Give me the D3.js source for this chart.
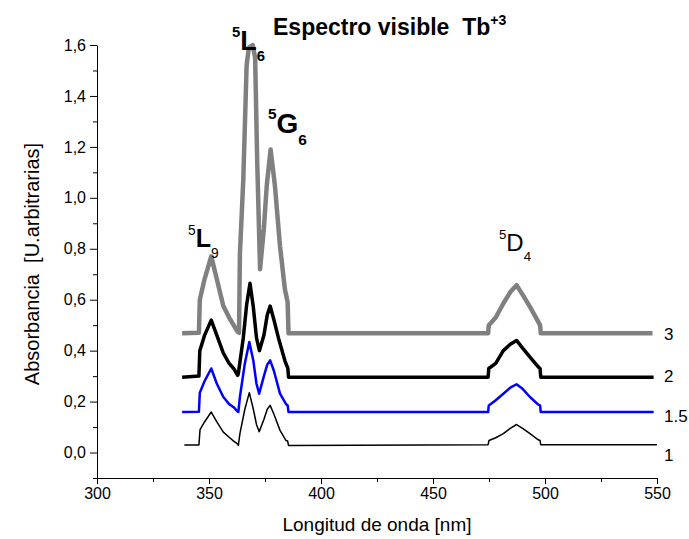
<!DOCTYPE html>
<html lang="es">
<head>
    <meta charset="UTF-8">
    <title>Espectro visible Tb+3</title>
    <script src="https://d3js.org/d3.v7.min.js"></script>
    <style>
        body { margin: 0; background: #fff; }
        svg { font-family: "Liberation Sans", Arial, sans-serif; }
        .axis path, .axis line { stroke: #000; stroke-width: 1px; }
        .axis text { font-size: 16px; fill: #000; }
        .spec { fill: none; stroke-linejoin: round; }
    </style>
</head>
<body>
<div id="chart"></div>
<script>
    // espectros (nm, absorbancia)
    const wl3 = [338, 345.5, 345.9, 348, 351, 353.5, 356.4, 359, 361, 362.8, 363.4, 363.8, 365.3, 366.8, 367.8, 369.5, 370.6, 371.5, 372.8, 374.5, 375.8, 377.5, 379.4, 381.7, 383.9, 385.1, 385.5, 474.6, 474.9, 478, 481.4, 484.5, 487.3, 490, 493.3, 497, 497.8, 498.1, 548];
    const abs3 = [0.468, 0.47, 0.60, 0.68, 0.77, 0.68, 0.575, 0.53, 0.50, 0.474, 0.47, 0.78, 1.07, 1.52, 1.59, 1.60, 1.55, 1.15, 0.72, 0.88, 1.05, 1.19, 1.05, 0.81, 0.64, 0.59, 0.468, 0.468, 0.50, 0.53, 0.585, 0.63, 0.657, 0.62, 0.572, 0.513, 0.50, 0.468, 0.468];

    const wl2 = [338, 345.5, 345.9, 348, 351, 353.5, 356.4, 359, 361, 362.8, 363.1, 365.3, 366.8, 368.3, 369.8, 371.2, 372.5, 374.5, 376, 377.3, 379, 381, 383.9, 385.2, 385.5, 474.6, 474.9, 478, 481.4, 484.5, 487.3, 490, 493.3, 497, 497.8, 498.1, 548.5];
    const abs2 = [0.296, 0.30, 0.40, 0.46, 0.52, 0.46, 0.39, 0.35, 0.33, 0.303, 0.31, 0.45, 0.58, 0.665, 0.57, 0.45, 0.40, 0.46, 0.54, 0.575, 0.52, 0.45, 0.36, 0.33, 0.296, 0.296, 0.33, 0.35, 0.40, 0.425, 0.44, 0.41, 0.375, 0.336, 0.33, 0.296, 0.296];

    const wl15 = [338, 345.5, 345.9, 348, 351, 353.5, 356.4, 359, 361, 362.6, 363.1, 363.8, 366, 368, 369.8, 371.2, 372.4, 374.5, 376, 377.3, 379, 381.7, 384.4, 385.1, 385.5, 474.6, 474.9, 478, 481.4, 484.5, 487.3, 490, 493.3, 497, 497.8, 498.1, 548.5];
    const abs15 = [0.159, 0.16, 0.235, 0.28, 0.33, 0.27, 0.218, 0.19, 0.178, 0.162, 0.159, 0.218, 0.35, 0.434, 0.36, 0.27, 0.231, 0.30, 0.345, 0.362, 0.32, 0.231, 0.19, 0.185, 0.159, 0.159, 0.185, 0.205, 0.231, 0.255, 0.268, 0.25, 0.218, 0.188, 0.185, 0.159, 0.159];

    const wl1 = [339, 345.5, 346, 348, 351, 353.5, 356.4, 359, 361, 362.6, 363.1, 363.8, 366, 368, 369.8, 371.2, 372.4, 374.5, 376, 377.3, 379, 381.7, 384.4, 385.1, 385.5, 474.6, 475, 478, 481.4, 484.5, 487.3, 490, 493.3, 497, 497.8, 498.1, 550];
    const abs1 = [0.03, 0.03, 0.09, 0.12, 0.159, 0.12, 0.08, 0.06, 0.045, 0.035, 0.028, 0.074, 0.17, 0.235, 0.17, 0.11, 0.082, 0.13, 0.17, 0.185, 0.15, 0.087, 0.047, 0.045, 0.028, 0.031, 0.047, 0.058, 0.074, 0.095, 0.11, 0.095, 0.074, 0.05, 0.047, 0.031, 0.031];

    const seriesNames = ["3", "2", "1.5", "1"];
    const xTicks = [300, 350, 400, 450, 500, 550];
    const yTicks = [0.0, 0.2, 0.4, 0.6, 0.8, 1.0, 1.2, 1.4, 1.6];

    const width = 689, height = 539;
    const svg = d3.select("#chart").append("svg")
        .attr("width", width)
        .attr("height", height);

    const x = d3.scaleLinear().domain([300, 550]).range([97, 657]);
    const y = d3.scaleLinear().domain([-0.1, 1.6]).range([478, 45]);

    const comma = d3.formatLocale({decimal: ",", thousands: ".", grouping: [3], currency: ["", ""]}).format(".1f");

    // ejes
    svg.append("g").attr("class", "axis")
        .attr("transform", `translate(${x(300)},0)`)
        .call(d3.axisLeft(y).tickValues(yTicks).tickFormat(comma).tickSize(7).tickSizeOuter(0).tickPadding(4));
    svg.append("g").attr("class", "axis")
        .attr("transform", `translate(${x(300)},0)`)
        .call(d3.axisLeft(y).tickValues(d3.range(-0.1, 1.6, 0.2)).tickFormat("").tickSize(4).tickSizeOuter(0))
        .select(".domain").remove();

    svg.append("g").attr("class", "axis")
        .attr("transform", `translate(0,${y(-0.1)})`)
        .call(d3.axisBottom(x).tickValues(xTicks).tickSize(6).tickSizeOuter(0).tickPadding(4));
    svg.append("g").attr("class", "axis")
        .attr("transform", `translate(0,${y(-0.1)})`)
        .call(d3.axisBottom(x).tickValues([325, 375, 425, 475, 525]).tickFormat("").tickSize(4).tickSizeOuter(0))
        .select(".domain").remove();

    // titulos de ejes
    svg.append("text")
        .attr("x", (x(300) + x(550)) / 2).attr("y", 531)
        .attr("text-anchor", "middle").attr("font-size", 19)
        .text("Longitud de onda [nm]");
    svg.append("text")
        .attr("transform", `translate(39,${y(0.74)}) rotate(-90)`)
        .attr("text-anchor", "middle").attr("font-size", 20)
        .attr("xml:space", "preserve")
        .text("Absorbancia  [U.arbitrarias]");

    // espectros
    const line = d3.line().x(d => x(d[0])).y(d => y(d[1]));
    const specs = [
        {wl: wl3, a: abs3, color: "#808080", w: 4.5, dy: 7},
        {wl: wl2, a: abs2, color: "#000000", w: 3.5, dy: 5},
        {wl: wl15, a: abs15, color: "#0000ff", w: 2.5, dy: 10},
        {wl: wl1, a: abs1, color: "#000000", w: 1.5, dy: 16}
    ];
    specs.forEach((s, i) => {
        svg.append("path").attr("class", "spec")
            .attr("d", line(d3.zip(s.wl, s.a)))
            .attr("stroke", s.color)
            .attr("stroke-width", s.w);
        svg.append("text")
            .attr("x", 664)
            .attr("y", y(s.a[s.a.length - 1]) + s.dy)
            .attr("font-size", 17)
            .text(seriesNames[i]);
    });

    // titulo
    const title = svg.append("text").attr("x", 273).attr("y", 35)
        .attr("font-size", 23).attr("font-weight", "bold")
        .attr("xml:space", "preserve");
    title.append("tspan").text("Espectro visible  Tb");
    title.append("tspan").attr("font-size", 14).attr("dy", -10).text("+3");

    // etiquetas de transiciones
    function term(xp, yp, letter, sub, size, bold, subBold) {
        const g = svg.append("text").attr("x", xp).attr("y", yp);
        g.append("tspan").attr("font-size", size * 0.55).attr("dy", -size * 0.5)
            .attr("font-weight", subBold ? "bold" : "normal").text("5");
        g.append("tspan").attr("font-size", size).attr("dy", size * 0.5)
            .attr("font-weight", bold ? "bold" : "normal").text(letter);
        g.append("tspan").attr("font-size", size * 0.55).attr("dy", size * 0.42)
            .attr("font-weight", subBold ? "bold" : "normal").text(sub);
    }
    term(232, 50, "L", "6", 27, true, true);
    term(268, 133, "G", "6", 28, true, true);
    term(188, 247, "L", "9", 25, true, false);
    term(499, 251, "D", "4", 24, false, false);
</script>
</body>
</html>
